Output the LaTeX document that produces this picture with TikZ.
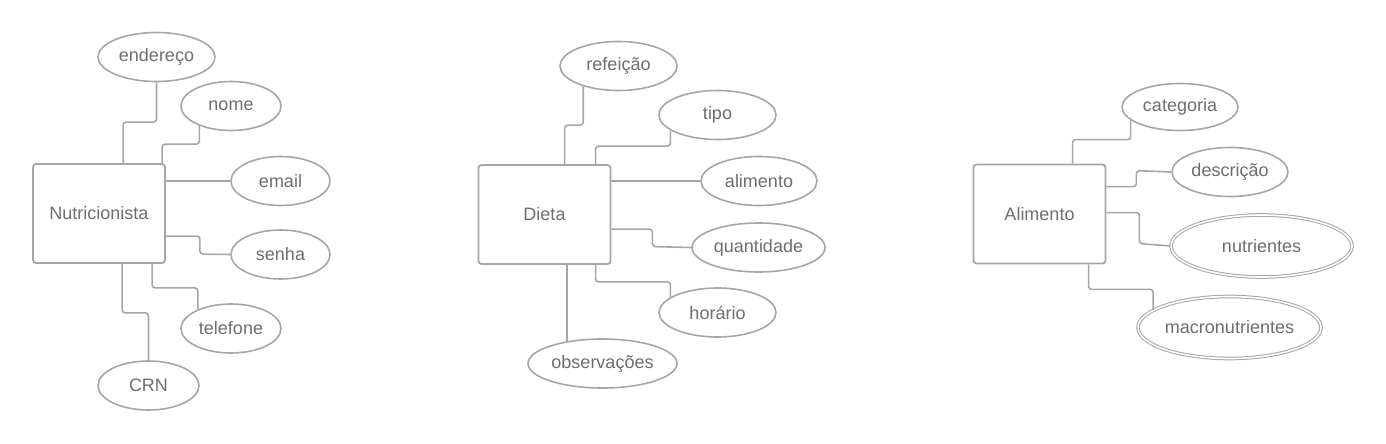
\documentclass[tikz,border=0pt]{standalone}
\usepackage{fontspec}
\setmainfont{Liberation Sans}
\usepackage{tikz}
\usetikzlibrary{shapes.geometric,calc}

\definecolor{erline}{HTML}{A6A6A6}
\definecolor{ertext}{HTML}{6E6E6E}

\begin{document}
\begin{tikzpicture}[
  x=1pt, y=-1pt,
  font=\fontsize{18}{20}\selectfont,
  entity/.style={
    rectangle,
    draw=erline,
    line width=1.8pt,
    rounded corners=3pt,
    text=ertext,
    minimum width=132pt,
    minimum height=99pt,
    fill=white
  },
  attr/.style={
    ellipse,
    draw=erline,
    line width=1.6pt,
    text=ertext,
    inner sep=0pt,
    minimum height=49pt,
    fill=white
  },
  multi/.style={
    attr,
    line width=1pt,
    double=white,
    double distance=1.6pt,
    minimum height=62pt
  },
  link/.style={draw=erline, line width=1.6pt, rounded corners=3pt}
]
\useasboundingbox (0,0) rectangle (1386,444);

% Nutricionista
\node[entity] (nutri) at (99,213.5) {Nutricionista};
\node[attr, minimum width=117pt] (endereco) at (156.5,57) {endereço};
\node[attr, minimum width=100pt] (nome) at (231,106) {nome};
\node[attr, minimum width=99pt] (email) at (280.5,181) {email};
\node[attr, minimum width=99pt] (senha) at (280.5,254.5) {senha};
\node[attr, minimum width=100pt] (telefone) at (231,328.5) {telefone};
\node[attr, minimum width=101pt] (crn) at (148.5,385.5) {CRN};

\draw[link] ($(nutri.north west)+(91,0)$) -- ++(0,-41) -| (endereco.south);
\draw[link] ($(nutri.north west)+(130,0)$) -- ++(0,-19) -| (nome.212);
\draw[link] (nutri.east |- email) -- (email.west);
\draw[link] ($(nutri.north east)+(0,73)$) -| ++(34,18) -- (senha.west);
\draw[link] ($(nutri.south west)+(120,0)$) -- ++(0,24) -| (telefone.150);
\draw[link] ($(nutri.south west)+(90,0)$) -- ++(0,49) -| (crn.north);

% Dieta
\node[entity] (dieta) at (544.5,214.5) {Dieta};
\node[attr, minimum width=117pt] (refeicao) at (618.5,66) {refeição};
\node[attr, minimum width=117pt] (tipo) at (717.5,115) {tipo};
\node[attr, minimum width=116pt] (alimento) at (759,181) {alimento};
\node[attr, minimum width=133pt] (quantidade) at (758.5,247.5) {quantidade};
\node[attr, minimum width=117pt] (horario) at (717.5,312.5) {horário};
\node[attr, minimum width=149pt] (observacoes) at (602.5,363.5) {observações};

\draw[link] ($(dieta.north west)+(87,0)$) -- ++(0,-39) -| (refeicao.210);
\draw[link] ($(dieta.north west)+(118,0)$) -- ++(0,-18) -| (tipo.198);
\draw[link] (dieta.east |- alimento) -- (alimento.west);
\draw[link] ($(dieta.north east)+(0,65)$) -| ++(41,17.5) -- (quantidade.west);
\draw[link] ($(dieta.south west)+(118,0)$) -- ++(0,17) -| (horario.162);
\draw[link] (dieta.south -| observacoes.148) -- (observacoes.148);

% Alimento
\node[entity] (alim) at (1039.5,214) {Alimento};
\node[attr, minimum width=116pt, minimum height=47pt] (categoria) at (1180,107) {categoria};
\node[attr, minimum width=116pt] (descricao) at (1230,172) {descrição};
\node[multi, minimum width=181pt] (nutrientes) at (1261.5,246) {nutrientes};
\node[multi, minimum width=183pt] (macro) at (1229.5,327.5) {macronutrientes};

\draw[link] ($(alim.north west)+(100,0)$) -- ++(0,-24) -| (categoria.195);
\draw[link] ($(alim.north east)+(0,23)$) -| ++(30,-16) -- (descricao.west);
\draw[link] ($(alim.north east)+(0,49)$) -| ++(33,31) -- (nutrientes.west);
\draw[link] ($(alim.south west)+(116,0)$) -- ++(0,25) -| (macro.167);

\end{tikzpicture}
\end{document}
